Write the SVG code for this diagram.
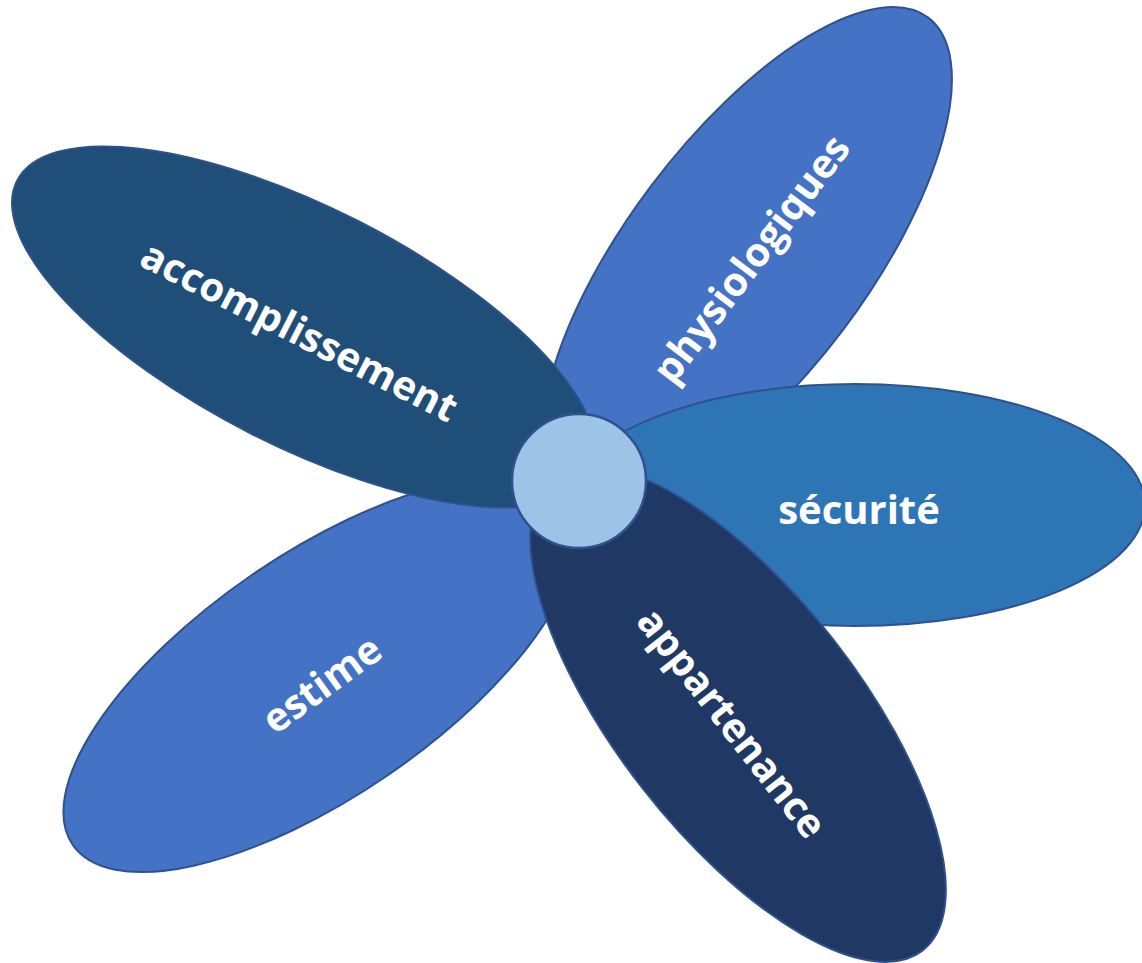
<svg xmlns="http://www.w3.org/2000/svg" width="1142" height="963" viewBox="0 0 1142 963">
<style>
.p{stroke:#2F528F;stroke-width:2}
.l{fill:#FFFFFF;font-family:"Open Sans","Liberation Sans",sans-serif;font-weight:bold;font-size:40px;text-anchor:middle;dominant-baseline:central}
</style>
<rect width="1142" height="963" fill="#FFFFFF"/>
<g id="estime">
<ellipse class="p" cx="320" cy="675" rx="300" ry="121" transform="rotate(-34.5 320 675)" fill="#4472C4"/>
<text class="l" x="321" y="683" transform="rotate(-36 321 683)">estime</text>
</g>
<g id="physiologiques">
<ellipse class="p" cx="747" cy="258" rx="301" ry="120" transform="rotate(-53 747 258)" fill="#4472C4"/>
<text class="l" x="750" y="258" transform="rotate(-53 750 258)">physiologiques</text>
</g>
<g id="securite">
<ellipse class="p" cx="855" cy="505" rx="290" ry="121" fill="#2E75B6"/>
<text class="l" x="859" y="508">sécurité</text>
</g>
<g id="appartenance">
<ellipse class="p" cx="738" cy="714" rx="300" ry="121" transform="rotate(52 738 714)" fill="#203864"/>
<text class="l" x="733" y="722" transform="rotate(52 733 722)">appartenance</text>
</g>
<g id="accomplissement">
<ellipse class="p" cx="304" cy="327" rx="322" ry="119" transform="rotate(27 304 327)" fill="#1F4E79"/>
<text class="l" x="300" y="330" transform="rotate(27 300 330)">accomplissement</text>
</g>
<g id="centre">
<circle cx="579" cy="481" r="67" fill="#9DC3E6" stroke="#2F528F" stroke-width="2.5"/>
</g>
<g id="connectors"></g>
</svg>
